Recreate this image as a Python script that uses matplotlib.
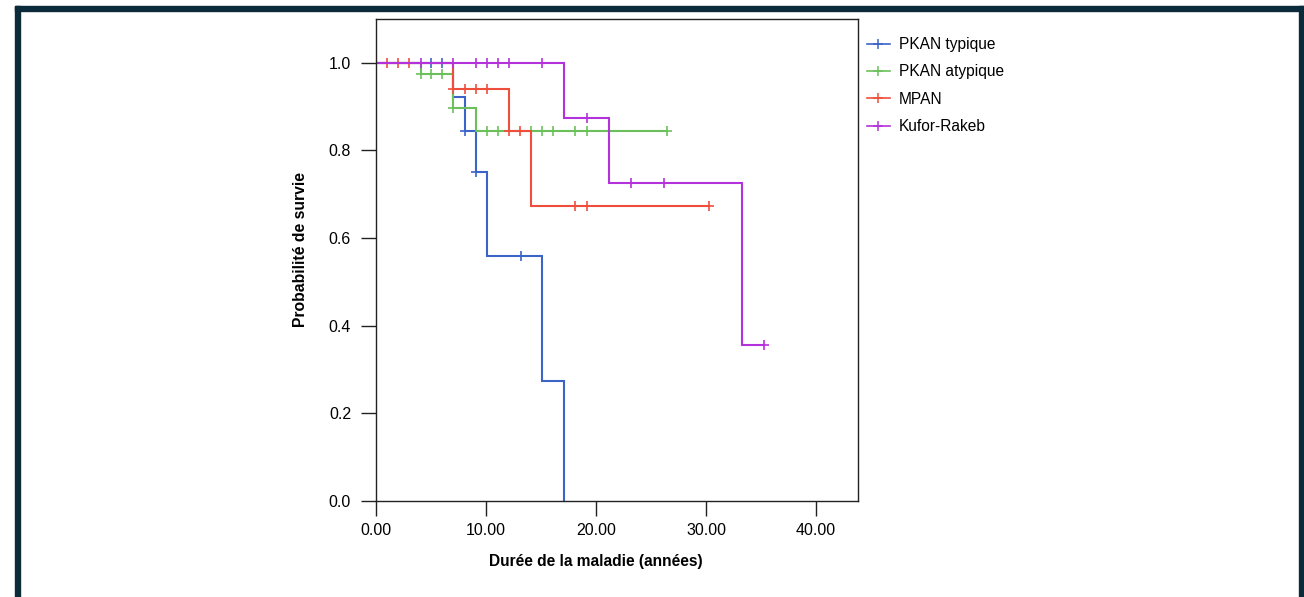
import numpy as np
import matplotlib
matplotlib.use("Agg")
import matplotlib.pyplot as plt
from matplotlib.patches import Rectangle

groups = ["PKAN typique", "PKAN atypique", "MPAN", "Kufor-Rakeb"]
colors = ["#3c64c8", "#6cc05c", "#f04e3c", "#b432dc"]

# event times and survival after each event
blue_t = [7.03, 8.06, 9.1, 10.06, 15.06, 17.1]
blue_s = [0.923, 0.845, 0.75, 0.558, 0.273, 0.0]
blue_c = [5.03, 6.0, 8.06, 9.1, 13.15]
blue_end = 17.1

green_t = [4.06, 7.03, 9.1]
green_s = [0.974, 0.897, 0.845]
green_c = [4.06, 5.03, 6.0, 7.03, 10.06, 11.06, 14.06, 15.1, 16.06, 18.1, 19.15, 26.4]
green_end = 26.4

red_t = [7.0, 12.06, 14.06]
red_s = [0.94, 0.845, 0.6735]
red_c = [0.97, 2.0, 3.03, 7.0, 8.06, 9.1, 10.1, 12.06, 13.1, 18.1, 19.15, 30.3]
red_end = 30.3

purple_t = [17.1, 21.15, 33.3]
purple_s = [0.874, 0.725, 0.355]
purple_c = [4.06, 7.03, 9.1, 10.06, 11.06, 12.06, 15.1, 19.15, 23.2, 26.2, 35.3]
purple_end = 35.3

series = [
    (blue_t, blue_s, blue_c, blue_end),
    (green_t, green_s, green_c, green_end),
    (red_t, red_s, red_c, red_end),
    (purple_t, purple_s, purple_c, purple_end),
]

yticks = [0.0, 0.2, 0.4, 0.6, 0.8, 1.0]
xticks = [0, 10, 20, 30, 40]

plt.rcParams['font.family'] = ['Liberation Sans', 'DejaVu Sans']

fig = plt.figure(figsize=(13.04, 5.97), dpi=100)
ax = fig.add_axes([376/1304, 1-501/597, (858-376)/1304, (501-19)/597])

handles = []
for (t, s, c, end), col, name in zip(series, colors, groups):
    t = np.asarray(t, float)
    s = np.asarray(s, float)
    xs = np.concatenate([[0.0], t])
    ys = np.concatenate([[1.0], s])
    if end > xs[-1]:
        xs = np.append(xs, end)
        ys = np.append(ys, ys[-1])
    ax.plot(xs, ys, drawstyle='steps-post', color=col, lw=1.5, solid_joinstyle='miter')
    c = np.asarray(c, float)
    idx = np.searchsorted(t, c, side='right')
    cs = np.concatenate([[1.0], s])[idx]
    ax.plot(c, cs, ls='none', marker='+', ms=7.5, mew=1.2, color=col)
    h, = ax.plot([], [], color=col, lw=1.2, marker='+', ms=7, mew=1.1)
    handles.append(h)

ax.set_xlim(0, 43.8)
ax.set_ylim(0, 1.1)
ax.set_xticks(xticks)
ax.set_xticklabels([f"{v:.2f}" for v in xticks])
ax.set_yticks(yticks)
ax.set_yticklabels([f"{v:.1f}" for v in yticks])
ax.tick_params(axis='both', direction='out', length=11, width=1.0, labelsize=11.5, color='#222222')
ax.tick_params(axis='y', pad=7)
ax.tick_params(axis='x', pad=5)
for sp in ax.spines.values():
    sp.set_linewidth(1.0)
    sp.set_color('#222222')

ax.set_xlabel("Durée de la maladie (années)", fontsize=11.2, fontweight='bold')
ax.set_ylabel("Probabilité de survie", fontsize=11.3, fontweight='bold')
ax.xaxis.set_label_coords(0.456, -0.109)
ax.yaxis.set_label_coords(-0.141, 0.521)

fig.legend(handles, groups, loc='upper left', bbox_to_anchor=(867/1304, 1-37/597),
           frameon=False, fontsize=11.2, handlelength=1.45, handletextpad=0.6,
           labelspacing=0.8, borderaxespad=0, borderpad=0)

# dark frame around the figure
border = '#0b2a3a'
fig.patches.append(Rectangle((15/1304, 0), 5/1304, 1-6/597, transform=fig.transFigure, color=border, zorder=0))
fig.patches.append(Rectangle((15/1304, 1-11/597), (1304-15)/1304, 5/597, transform=fig.transFigure, color=border, zorder=0))
fig.patches.append(Rectangle((1299/1304, 0), 5/1304, 1-6/597, transform=fig.transFigure, color=border, zorder=0))

fig.savefig("out.png", dpi=100)
